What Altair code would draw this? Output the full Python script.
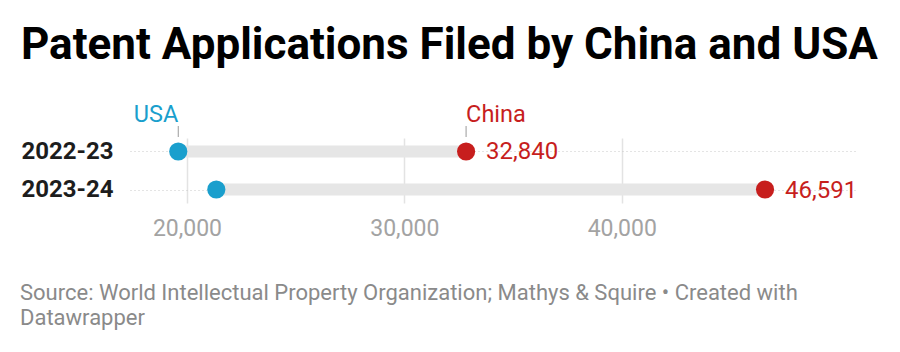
import altair as alt
import pandas as pd

periods = ["2022-23", "2023-24"]
usa = [19600, 21350]
china = [32840, 46591]
countries = ["USA", "China"]
colors = ["#1a9fcd", "#c71e1d"]
tick_values = [20000, 30000, 40000]
title_text = "Patent Applications Filed by China and USA"
footer_lines = ["Source: World Intellectual Property Organization; Mathys & Squire • Created with",
                "Datawrapper"]

wide = pd.DataFrame({"period": periods, "USA": usa, "China": china})
long = pd.DataFrame({
    "period": periods * 2,
    "country": ["USA"] * len(periods) + ["China"] * len(periods),
    "value": usa + china,
})

FONT = "Roboto"
xscale = alt.Scale(domain=[17380, 50730], nice=False, zero=False)
yscale = alt.Scale(type="point", padding=0.355, domain=periods)
cscale = alt.Scale(domain=countries, range=colors)

xaxis = alt.Axis(values=tick_values, labelExpr="format(datum.value, ',')", title=None,
                 domain=False, ticks=False,
                 labelFontSize=23, labelColor="#a3a3a3", labelPadding=14, labelFont=FONT,
                 gridColor="#e3e3e3", gridWidth=1.5)
yaxis = alt.Axis(title=None, domain=False, ticks=False, labelFontSize=24, labelFontWeight="bold",
                 labelColor="#1d1d1d", labelPadding=17, labelFont=FONT,
                 grid=True, gridDash=[1, 3], gridColor="#c8c8c8", gridWidth=1)

base = alt.Chart(wide)

bars = base.mark_rule(strokeWidth=12, color="#e6e6e6").encode(
    x=alt.X("USA:Q", scale=xscale, axis=xaxis),
    x2="China:Q",
    y=alt.Y("period:N", scale=yscale, axis=yaxis, sort=periods),
)

dots = alt.Chart(long).mark_circle(size=330, opacity=1).encode(
    x=alt.X("value:Q", scale=xscale, axis=xaxis),
    y=alt.Y("period:N", scale=yscale, axis=yaxis, sort=periods),
    color=alt.Color("country:N", scale=cscale, legend=None),
)

value_labels = base.mark_text(align="left", baseline="middle", dx=20, dy=1,
                              fontSize=24, font=FONT, color=colors[1]).encode(
    x=alt.X("China:Q", scale=xscale, axis=xaxis),
    y=alt.Y("period:N", scale=yscale, axis=yaxis, sort=periods),
    text=alt.Text("China:Q", format=","),
)

first = long[long["period"] == periods[0]]

ann_ticks = alt.Chart(first).mark_rule(color="#9a9a9a", strokeWidth=1).encode(
    x=alt.X("value:Q", scale=xscale, axis=xaxis),
    y=alt.value(-12),
    y2=alt.value(-1),
)

ann_usa = alt.Chart(first[first["country"] == "USA"]).mark_text(
    align="right", baseline="alphabetic", fontSize=23.5, font=FONT, color=colors[0], dx=0
).encode(
    x=alt.X("value:Q", scale=xscale, axis=xaxis), y=alt.value(-16), text="country:N"
)
ann_china = alt.Chart(first[first["country"] == "China"]).mark_text(
    align="left", baseline="alphabetic", fontSize=23.5, font=FONT, color=colors[1], dx=0
).encode(
    x=alt.X("value:Q", scale=xscale, axis=xaxis), y=alt.value(-16), text="country:N"
)

title = alt.Chart(pd.DataFrame({"t": [title_text]})).mark_text(
    align="left", baseline="alphabetic", fontSize=44, fontWeight="bold", font=FONT, color="#000000"
).encode(x=alt.value(-109), y=alt.value(-79), text="t:N")

footer = alt.Chart(pd.DataFrame({"t": [footer_lines]})).mark_text(
    align="left", baseline="alphabetic", fontSize=22, font=FONT, color="#8a8a8a", lineHeight=25
).encode(x=alt.value(-110), y=alt.value(162), text="t")

chart = alt.layer(bars, dots, value_labels, ann_ticks, ann_usa, ann_china, title, footer).properties(
    width=725, height=65,
    autosize=alt.AutoSizeParams(type="none"),
    padding={"left": 130, "top": 138, "right": 45, "bottom": 149},
    background="white",
).configure_view(stroke=None)

chart.save("out.html", embed_options={"renderer": "svg", "actions": False})
